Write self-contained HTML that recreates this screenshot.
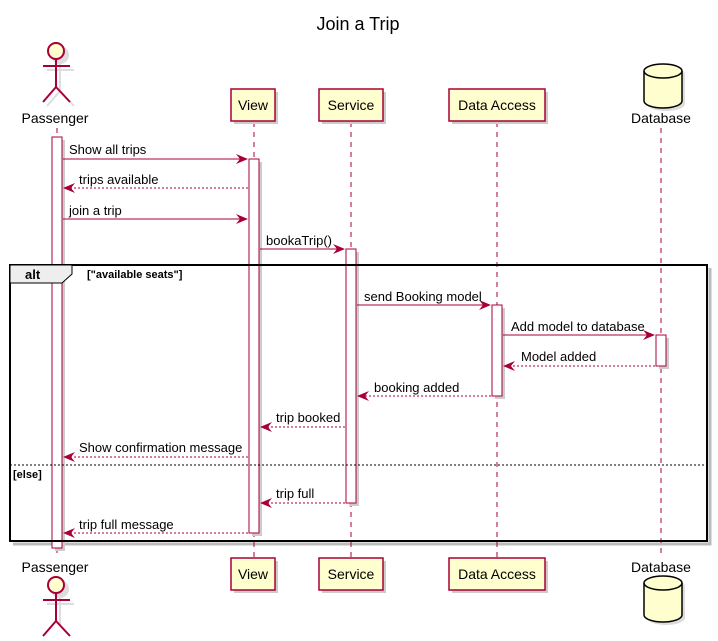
<!DOCTYPE html>
<html><head><meta charset="utf-8"><style>
html,body{margin:0;padding:0;background:#fff;}
svg{display:block;font-family:"Liberation Sans",sans-serif;}
</style></head><body>
<svg width="718" height="641" viewBox="0 0 718 641" xmlns="http://www.w3.org/2000/svg">
<defs>
<marker id="a" viewBox="0 0 12 10" refX="11" refY="5" markerWidth="12" markerHeight="10" markerUnits="userSpaceOnUse" orient="auto"><path d="M0,0 L12,5 L0,10 L4,5 Z" fill="#A80036"/></marker>
</defs>
<text x="358" y="30" font-size="18" text-anchor="middle" fill="#000">Join a Trip</text>

<!-- frame shadow (edges only) -->
<g stroke="#bbb" stroke-width="3" fill="none">
<polyline points="710,268 710,544 13,544"/>
</g>

<!-- lifelines -->
<g stroke="#A80036" stroke-width="1" stroke-dasharray="5,5">
<line x1="57" y1="128" x2="57" y2="556"/>
<line x1="254" y1="122" x2="254" y2="558"/>
<line x1="351" y1="122" x2="351" y2="558"/>
<line x1="497" y1="122" x2="497" y2="558"/>
<line x1="661" y1="128" x2="661" y2="556"/>
</g>

<!-- actors -->
<g stroke="#ddd" stroke-width="2" fill="none">
<circle cx="60" cy="55" r="8" fill="#ddd"/>
<line x1="60" y1="63" x2="60" y2="91"/><line x1="47" y1="70" x2="74" y2="70"/>
<line x1="60" y1="91" x2="47" y2="106"/><line x1="60" y1="91" x2="74" y2="106"/>
<circle cx="60" cy="589" r="8" fill="#ddd"/>
<line x1="60" y1="597" x2="60" y2="625"/><line x1="47" y1="604" x2="74" y2="604"/>
</g>
<g stroke="#A80036" stroke-width="2" fill="none">
<circle cx="56" cy="51" r="8" fill="#FEFECE"/>
<line x1="56" y1="59" x2="56" y2="87"/><line x1="43" y1="66" x2="70" y2="66"/>
<line x1="56" y1="87" x2="43" y2="102"/><line x1="56" y1="87" x2="70" y2="102"/>
<circle cx="56" cy="585" r="8" fill="#FEFECE"/>
<line x1="56" y1="593" x2="56" y2="621"/><line x1="43" y1="600" x2="70" y2="600"/>
<line x1="56" y1="621" x2="43" y2="636"/><line x1="56" y1="621" x2="70" y2="636"/>
</g>
<g font-size="14" fill="#000" text-anchor="middle">
<text x="55" y="123">Passenger</text><text x="55" y="572">Passenger</text>
<text x="661" y="123">Database</text><text x="661" y="572">Database</text>
</g>

<!-- participant boxes -->
<g fill="#FEFECE" stroke="#A80036" stroke-width="1.5">
<rect x="234" y="92" width="44" height="32" fill="#ccc" stroke="none"/>
<rect x="231" y="89" width="44" height="32"/>
<rect x="322" y="92" width="64" height="32" fill="#ccc" stroke="none"/>
<rect x="319" y="89" width="64" height="32"/>
<rect x="452" y="92" width="96" height="32" fill="#ccc" stroke="none"/>
<rect x="449" y="89" width="96" height="32"/>
<rect x="234" y="561" width="44" height="32" fill="#ccc" stroke="none"/>
<rect x="231" y="558" width="44" height="32"/>
<rect x="322" y="561" width="64" height="32" fill="#ccc" stroke="none"/>
<rect x="319" y="558" width="64" height="32"/>
<rect x="452" y="561" width="96" height="32" fill="#ccc" stroke="none"/>
<rect x="449" y="558" width="96" height="32"/>
</g>
<g font-size="14" fill="#000" text-anchor="middle">
<text x="253" y="110">View</text><text x="351" y="110">Service</text><text x="497" y="110">Data Access</text>
<text x="253" y="579">View</text><text x="351" y="579">Service</text><text x="497" y="579">Data Access</text>
</g>

<!-- database cylinders -->
<g fill="#ddd" stroke="none">
<path d="M647,74 A19,7 0 0 1 685,74 L685,104 A19,7 0 0 1 647,104 Z"/>
<path d="M647,586 A19,7 0 0 1 685,586 L685,618 A19,7 0 0 1 647,618 Z"/>
</g>
<g fill="#FEFECE" stroke="#000" stroke-width="1.5">
<path d="M644,71 A19,7 0 0 1 682,71 L682,101 A19,7 0 0 1 644,101 Z"/>
<path d="M644,71 A19,7 0 0 0 682,71" fill="none"/>
<path d="M644,583 A19,7 0 0 1 682,583 L682,615 A19,7 0 0 1 644,615 Z"/>
<path d="M644,583 A19,7 0 0 0 682,583" fill="none"/>
</g>

<!-- activations -->
<g fill="#ccc">
<rect x="55" y="140" width="10" height="411"/>
<rect x="252" y="162" width="10" height="374"/>
<rect x="349" y="252" width="10" height="254"/>
<rect x="495" y="308" width="10" height="91"/>
<rect x="659" y="338" width="10" height="31"/>
</g>
<g fill="#fff" stroke="#A80036" stroke-width="1">
<rect x="52" y="137" width="10" height="411"/>
<rect x="249" y="159" width="10" height="374"/>
<rect x="346" y="249" width="10" height="254"/>
<rect x="492" y="305" width="10" height="91"/>
<rect x="656" y="335" width="10" height="31"/>
</g>

<!-- alt frame -->
<rect x="10" y="265" width="697" height="276" fill="none" stroke="#000" stroke-width="2"/>
<path d="M10,265 L72,265 L72,274 L62,283 L10,283 Z" fill="#EEEEEE" stroke="#000" stroke-width="1"/>
<text x="25" y="279" font-size="13" font-weight="bold">alt</text>
<text x="87" y="278" font-size="11" font-weight="bold">["available seats"]</text>
<line x1="10" y1="465" x2="707" y2="465" stroke="#000" stroke-width="1" stroke-dasharray="2,2"/>
<text x="13" y="478" font-size="11" font-weight="bold">[else]</text>

<!-- messages -->
<g stroke="#A80036" stroke-width="1" fill="none" marker-end="url(#a)">
<line x1="63" y1="159" x2="247" y2="159"/>
<line x1="248" y1="188" x2="64" y2="188" stroke-dasharray="2,2"/>
<line x1="63" y1="219" x2="247" y2="219"/>
<line x1="260" y1="249" x2="344" y2="249"/>
<line x1="357" y1="305" x2="490" y2="305"/>
<line x1="503" y1="335" x2="654" y2="335"/>
<line x1="655" y1="366" x2="504" y2="366" stroke-dasharray="2,2"/>
<line x1="491" y1="396" x2="358" y2="396" stroke-dasharray="2,2"/>
<line x1="345" y1="427" x2="261" y2="427" stroke-dasharray="2,2"/>
<line x1="248" y1="457" x2="64" y2="457" stroke-dasharray="2,2"/>
<line x1="345" y1="503" x2="261" y2="503" stroke-dasharray="2,2"/>
<line x1="248" y1="533" x2="64" y2="533" stroke-dasharray="2,2"/>
</g>
<g font-size="13" fill="#000">
<text x="69" y="154">Show all trips</text>
<text x="79" y="184">trips available</text>
<text x="69" y="215">join a trip</text>
<text x="266" y="245">bookaTrip()</text>
<text x="364" y="301">send Booking model</text>
<text x="511" y="331">Add model to database</text>
<text x="521" y="361">Model added</text>
<text x="374" y="392">booking added</text>
<text x="276" y="422">trip booked</text>
<text x="79" y="452">Show confirmation message</text>
<text x="276" y="498">trip full</text>
<text x="79" y="529">trip full message</text>
</g>
</svg>
</body></html>
